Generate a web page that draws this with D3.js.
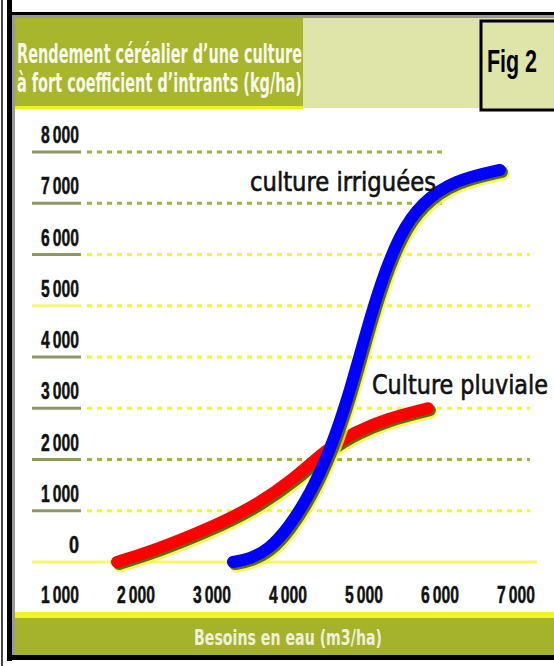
<!DOCTYPE html>
<html>
<head>
<meta charset="utf-8">
<script src="https://cdn.jsdelivr.net/npm/d3@7"></script>
<style>
  body { margin: 0; background: #fff; }
  text { font-family: "DejaVu Sans Condensed", "Liberation Sans", sans-serif; }
  text.num { font-family: "Liberation Sans", "DejaVu Sans Condensed", sans-serif; }
</style>
</head>
<body>
<div id="chart"></div>
<script>
const xTicks = [1000, 2000, 3000, 4000, 5000, 6000, 7000];
const yTicks = [0, 1000, 2000, 3000, 4000, 5000, 6000, 7000, 8000];

// Culture pluviale (red)
const pluvX = [1750, 2300, 2900, 3500, 4100, 4500, 4900, 5300, 5840];
const pluvY = [0, 260, 620, 1030, 1640, 2200, 2550, 2800, 3000];

// culture irriguées (blue)
const irrigX = [3276, 3500, 3750, 4000, 4300, 4560, 4790, 5020, 5220, 5470, 5750, 6180, 6789];
const irrigY = [0, 60, 250, 650, 1350, 2200, 3200, 4450, 5450, 6400, 7000, 7450, 7650];

const w = 554;
const h = 666;

const xScale = d3.scaleLinear().domain([1000, 7000]).range([60, 516]);
const yScale = d3.scaleLinear().domain([0, 8000]).range([562, 152]);

const svg = d3.select('#chart')
  .append('svg')
  .attr('width', w)
  .attr('height', h);

// frame
svg.append('rect').attr('x', 1).attr('y', 0).attr('width', 2).attr('height', h).attr('fill', '#444');
svg.append('rect').attr('x', 7).attr('y', 0).attr('width', 5).attr('height', h - 5).attr('fill', '#000');
svg.append('rect').attr('x', 12).attr('y', 15).attr('width', 3).attr('height', 640).attr('fill', '#999');
svg.append('rect').attr('x', 7).attr('y', 12).attr('width', w).attr('height', 3).attr('fill', '#000');
svg.append('rect').attr('x', 12).attr('y', 15).attr('width', w).attr('height', 3).attr('fill', '#999');

// header band
svg.append('rect').attr('x', 15).attr('y', 18).attr('width', w).attr('height', 90).attr('fill', '#dfe4a8');
svg.append('rect').attr('x', 15).attr('y', 18).attr('width', 288).attr('height', 90).attr('fill', '#a7b62c');
svg.append('rect').attr('x', 15).attr('y', 106).attr('width', 288).attr('height', 3).attr('fill', '#eef21a');

const titleLines = ["Rendement céréalier d\u2019une culture", "à fort coefficient d\u2019intrants (kg/ha)"];
svg.selectAll('text.title')
  .data(titleLines)
  .enter()
  .append('text')
  .attr('class', 'title')
  .attr('x', 17)
  .attr('y', function(d, i) { return 63 + i * 29; })
  .attr('textLength', 285)
  .attr('lengthAdjust', 'spacingAndGlyphs')
  .attr('font-size', '27px')
  .attr('font-weight', 'bold')
  .attr('fill', '#f6f8ea')
  .text(function(d) { return d; });

// Fig 2 box
svg.append('rect').attr('x', 481).attr('y', 21).attr('width', 80).attr('height', 89)
  .attr('fill', '#dfe4a8').attr('stroke', '#000').attr('stroke-width', 3);
svg.append('text')
  .attr('class', 'num')
  .attr('x', 487).attr('y', 72)
  .attr('textLength', 50)
  .attr('lengthAdjust', 'spacingAndGlyphs')
  .attr('font-size', '32px')
  .attr('font-weight', 'bold')
  .attr('fill', '#000')
  .text('Fig 2');

// y grid
const gridTicks = yTicks.filter(function(d) { return d > 0; });
const yellowLines = [1000, 3000, 4000, 5000, 6000];

svg.selectAll('rect.tickbar')
  .data(gridTicks)
  .enter()
  .append('rect')
  .attr('x', 32)
  .attr('y', function(d) { return yScale(d) - 1.5; })
  .attr('width', 49)
  .attr('height', 3)
  .attr('fill', function(d) { return d === 5000 ? '#f6f67a' : '#8e9668'; });

svg.selectAll('line.grid')
  .data(gridTicks)
  .enter()
  .append('line')
  .attr('x1', 87)
  .attr('x2', function(d) { return d >= 7000 ? 447 : 530; })
  .attr('y1', function(d) { return yScale(d); })
  .attr('y2', function(d) { return yScale(d); })
  .attr('stroke', function(d) { return yellowLines.indexOf(d) >= 0 ? '#eef83a' : '#a3b04a'; })
  .attr('stroke-width', 3)
  .attr('stroke-dasharray', '5,5');

svg.append('line')
  .attr('x1', 32).attr('x2', 537)
  .attr('y1', yScale(0)).attr('y2', yScale(0))
  .attr('stroke', '#f8f870')
  .attr('stroke-width', 3);

function fmt(v) {
  return v === 0 ? '0' : (v / 1000) + '\u2009000';
}

svg.selectAll('text.ylab')
  .data(yTicks)
  .enter()
  .append('text')
  .attr('class', 'num')
  .attr('x', 79)
  .attr('y', function(d) { return yScale(d) - 9; })
  .attr('text-anchor', 'end')
  .attr('textLength', function(d) { return d === 0 ? 10 : 38; })
  .attr('lengthAdjust', 'spacingAndGlyphs')
  .attr('font-size', '24px')
  .attr('font-weight', 'bold')
  .attr('fill', '#111')
  .attr('stroke', '#111')
  .attr('stroke-width', 0.5)
  .text(fmt);

svg.selectAll('text.xlab')
  .data(xTicks)
  .enter()
  .append('text')
  .attr('class', 'num')
  .attr('x', function(d) { return xScale(d); })
  .attr('y', 603)
  .attr('text-anchor', 'middle')
  .attr('textLength', 38)
  .attr('lengthAdjust', 'spacingAndGlyphs')
  .attr('font-size', '24px')
  .attr('font-weight', 'bold')
  .attr('fill', '#111')
  .attr('stroke', '#111')
  .attr('stroke-width', 0.5)
  .text(fmt);

// bottom band
svg.append('rect').attr('x', 15).attr('y', 612).attr('width', w).attr('height', 6).attr('fill', '#f2f22a');
svg.append('rect').attr('x', 15).attr('y', 618).attr('width', w).attr('height', 38).attr('fill', '#a5b32c');
svg.append('rect').attr('x', 7).attr('y', 655).attr('width', w).attr('height', 5).attr('fill', '#000');
svg.append('text')
  .attr('x', 288).attr('y', 645)
  .attr('text-anchor', 'middle')
  .attr('textLength', 188)
  .attr('lengthAdjust', 'spacingAndGlyphs')
  .attr('font-size', '22px')
  .attr('font-weight', 'bold')
  .attr('fill', '#eef0dc')
  .text('Besoins en eau (m3/ha)');

// curves
const line = d3.line()
  .x(function(d) { return xScale(d[0]); })
  .y(function(d) { return yScale(d[1]); })
  .curve(d3.curveBasis);

const series = [
  { pts: d3.zip(pluvX, pluvY), color: '#ff0000' },
  { pts: d3.zip(irrigX, irrigY), color: '#0000ff' }
];

series.forEach(function(s) {
  svg.append('path')
    .attr('d', line(s.pts))
    .attr('transform', 'translate(3,4)')
    .attr('fill', 'none')
    .attr('stroke', '#f4f43a')
    .attr('stroke-width', 13)
    .attr('stroke-linecap', 'round')
    .attr('opacity', 0.8);
  svg.append('path')
    .attr('d', line(s.pts))
    .attr('transform', 'translate(2,2)')
    .attr('fill', 'none')
    .attr('stroke', '#5d6b12')
    .attr('stroke-width', 12)
    .attr('stroke-linecap', 'round');
  svg.append('path')
    .attr('d', line(s.pts))
    .attr('fill', 'none')
    .attr('stroke', s.color)
    .attr('stroke-width', 12)
    .attr('stroke-linecap', 'round');
});

// labels
svg.append('text')
  .attr('x', 250).attr('y', 191)
  .attr('textLength', 186)
  .attr('lengthAdjust', 'spacingAndGlyphs')
  .attr('font-size', '27px')
  .attr('fill', '#111')
  .attr('stroke', '#111')
  .attr('stroke-width', 0.6)
  .text('culture irriguées');

svg.append('text')
  .attr('x', 372).attr('y', 394)
  .attr('textLength', 176)
  .attr('lengthAdjust', 'spacingAndGlyphs')
  .attr('font-size', '27px')
  .attr('fill', '#111')
  .attr('stroke', '#111')
  .attr('stroke-width', 0.6)
  .text('Culture pluviale');
</script>
</body>
</html>
